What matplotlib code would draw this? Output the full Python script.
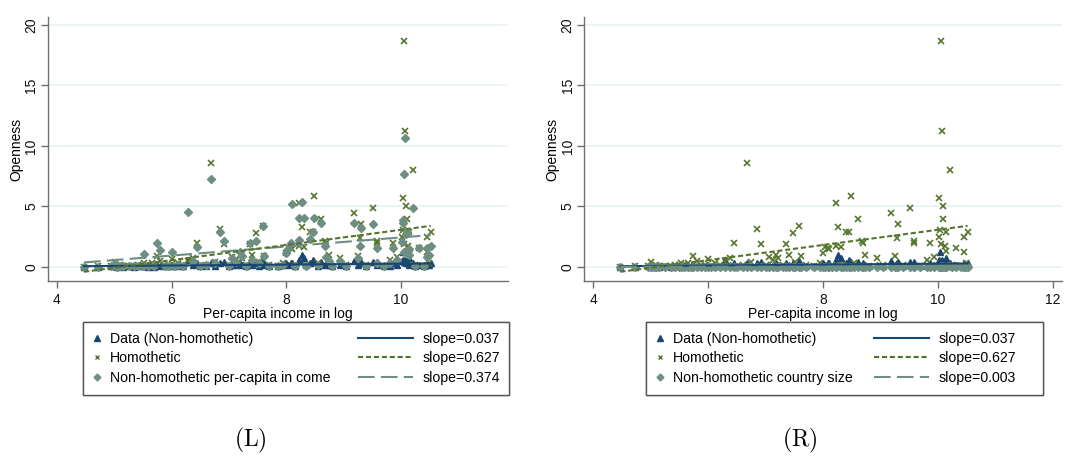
import numpy as np
import matplotlib
matplotlib.use("Agg")
import matplotlib.pyplot as plt
from matplotlib.lines import Line2D

plt.rcParams['font.family'] = ['Liberation Sans', 'DejaVu Sans']
plt.rcParams['mathtext.fontset'] = 'cm'

# log per-capita income of each country
log_income = [4.47, 4.72, 4.95, 5.00, 5.01, 5.05, 5.10, 5.15, 5.25, 5.35,
              5.42, 5.50, 5.52, 5.58, 5.65, 5.70, 5.74, 5.80, 5.88, 5.95,
              6.00, 6.05, 6.12, 6.20, 6.29, 6.38, 6.45, 6.50, 6.60, 6.68,
              6.75, 6.85, 6.92, 7.00, 7.06, 7.13, 7.19, 7.22, 7.30, 7.36,
              7.41, 7.48, 7.52, 7.59, 7.61, 7.70, 7.85, 7.95, 8.00, 8.03,
              8.09, 8.10, 8.15, 8.22, 8.23, 8.27, 8.31, 8.35, 8.41, 8.46,
              8.49, 8.55, 8.61, 8.68, 8.70, 8.74, 8.80, 8.94, 9.05, 9.18,
              9.26, 9.29, 9.30, 9.40, 9.52, 9.58, 9.59, 9.70, 9.81, 9.87,
              9.94, 10.02, 10.03, 10.04, 10.05, 10.06, 10.07, 10.09, 10.10, 10.12,
              10.14, 10.15, 10.21, 10.25, 10.32, 10.40, 10.45, 10.46, 10.50, 10.52]

# observed openness (navy triangles)
open_data = [0.02, 0.03, 0.04, 0.05, 0.10, 0.03, 0.05, 0.02, 0.04, 0.03,
             0.05, 0.05, 0.10, 0.03, 0.10, 0.02, 0.15, 0.10, 0.05, 0.05,
             0.20, 0.05, 0.10, 0.05, 0.60, 0.20, 0.30, 0.05, 0.10, 0.30,
             0.10, 0.30, 0.40, 0.05, 0.20, 0.15, 0.30, 0.20, 0.10, 0.35,
             0.20, 0.30, 0.10, 0.50, 0.20, 0.05, 0.05, 0.15, 0.30, 0.20,
             0.30, 0.30, 0.10, 0.50, 0.60, 1.00, 0.70, 0.20, 0.30, 0.60,
             0.40, 0.10, 0.40, 0.20, 0.30, 0.20, 0.05, 0.20, 0.10, 0.50,
             0.20, 0.30, 0.40, 0.10, 0.40, 0.40, 0.20, 0.10, 0.10, 0.30,
             0.20, 0.50, 0.60, 1.20, 0.40, 0.50, 0.60, 0.30, 0.40, 0.30,
             0.70, 0.20, 0.30, 0.05, 0.20, 0.05, 0.30, 0.20, 0.20, 0.30]

# homothetic model (green x)
open_homothetic = [0.00, 0.05, 0.05, 0.10, 0.44, 0.05, 0.20, 0.10, 0.05, 0.05,
                   0.15, 0.20, 0.30, 0.10, 0.30, 0.10, 0.91, 0.50, 0.10, 0.20,
                   0.63, 0.10, 0.30, 0.20, 0.52, 0.72, 1.96, 0.10, 0.20, 8.57,
                   0.44, 3.14, 1.90, 0.20, 0.85, 0.58, 0.99, 0.72, 0.20, 1.87,
                   0.99, 2.78, 0.44, 3.39, 0.91, 0.20, 0.10, 0.30, 1.18, 1.68,
                   1.54, 1.46, 0.20, 1.74, 5.26, 3.33, 1.68, 0.20, 2.92, 2.92,
                   5.87, 0.30, 3.94, 2.18, 2.01, 0.99, 0.10, 0.72, 0.20, 4.49,
                   0.91, 2.37, 3.53, 0.20, 4.85, 2.18, 1.96, 0.10, 0.58, 1.96,
                   0.85, 2.45, 5.67, 3.06, 1.90, 18.68, 11.27, 5.04, 3.97, 1.74,
                   2.92, 1.35, 8.02, 0.20, 1.60, 0.10, 2.45, 1.27, 0.30, 2.92]

# non-homothetic, per-capita income channel (teal diamonds, left)
open_nh_income = [0.00, 0.00, 0.05, 0.15, 0.35, 0.00, 0.10, 0.05, 0.05, 0.05,
                  0.10, 0.10, 1.07, 0.05, 0.20, 0.05, 1.96, 1.40, 0.10, 0.10,
                  1.27, 0.05, 0.20, 0.10, 4.55, 0.50, 1.68, 0.05, 0.20, 7.27,
                  0.30, 2.92, 2.18, 0.10, 0.70, 0.40, 1.27, 0.91, 0.10, 1.96,
                  0.60, 2.18, 0.30, 3.42, 0.91, 0.10, 0.10, 0.20, 1.13, 1.50,
                  1.96, 5.18, 0.10, 2.23, 4.02, 5.40, 4.02, 0.10, 2.29, 2.87,
                  4.08, 0.20, 3.66, 1.74, 0.80, 0.50, 0.10, 0.50, 0.10, 3.61,
                  0.70, 1.74, 3.20, 0.10, 3.55, 1.60, 0.30, 0.10, 0.30, 1.60,
                  0.60, 2.09, 3.88, 3.66, 1.20, 7.66, 10.69, 2.73, 2.92, 1.30,
                  1.50, 1.00, 4.90, 0.10, 1.54, 0.10, 1.54, 0.85, 1.00, 1.74]

# non-homothetic, country size channel (teal diamonds, right)
open_nh_size = [0.00, 0.00, 0.01, 0.01, 0.02, 0.00, 0.01, 0.00, 0.01, 0.00,
                0.01, 0.01, 0.02, 0.00, 0.01, 0.00, 0.02, 0.01, 0.00, 0.01,
                0.02, 0.00, 0.01, 0.00, 0.03, 0.01, 0.02, 0.00, 0.01, 0.03,
                0.01, 0.02, 0.02, 0.00, 0.01, 0.01, 0.02, 0.01, 0.00, 0.02,
                0.01, 0.02, 0.01, 0.03, 0.01, 0.00, 0.00, 0.01, 0.02, 0.01,
                0.02, 0.03, 0.00, 0.02, 0.03, 0.04, 0.03, 0.00, 0.02, 0.02,
                0.03, 0.01, 0.03, 0.02, 0.01, 0.01, 0.00, 0.01, 0.00, 0.03,
                0.01, 0.02, 0.03, 0.00, 0.03, 0.02, 0.01, 0.00, 0.01, 0.02,
                0.01, 0.02, 0.03, 0.03, 0.02, 0.05, 0.06, 0.02, 0.02, 0.01,
                0.02, 0.01, 0.04, 0.00, 0.02, 0.00, 0.02, 0.01, 0.01, 0.02]

# fitted lines: slope, intercept
fit_data = (0.037, -0.10)
fit_homothetic = (0.627, -3.20)
fit_nh_income = (0.374, -1.30)
fit_nh_size = (0.003, 0.00)

legend_data = "Data (Non-homothetic)"
legend_hom = "Homothetic"
legend_nh = ["Non-homothetic per-capita in come", "Non-homothetic country size"]

navy = "#1a476f"
green = "#55752f"
teal = "#6e8e84"

x = np.array(log_income)
xfit = np.array([x.min(), x.max()])

fig = plt.figure(figsize=(10.89, 4.62), dpi=100)
ax_l = fig.add_axes([48/1089, 1-281/462, 460/1089, 264/462])
ax_r = fig.add_axes([584.3/1089, 1-281/462, 477.4/1089, 264/462])

panels = [(ax_l, open_nh_income, fit_nh_income, legend_nh[0], (3.843, 11.87), [4, 6, 8, 10], "L", 83),
          (ax_r, open_nh_size, fit_nh_size, legend_nh[1], (3.843, 12.16), [4, 6, 8, 10, 12], "R", 646)]

leg_kw = dict(fontsize=10.2, labelspacing=0.4, borderpad=0.68, borderaxespad=0)

for ax, nh, fit_nh, lab_nh, xlim, xt, tag, lx in panels:
    for yv in [0, 5, 10, 15, 20]:
        ax.axhline(yv, color="#eaf2f3", lw=1.3, zorder=0)
    ax.plot(x, open_data, ls="none", marker="^", ms=5, color=navy, mec=navy, zorder=2)
    ax.plot(x, open_homothetic, ls="none", marker="x", ms=4.5, mew=1.2, color=green, zorder=3)
    ax.plot(x, nh, ls="none", marker="D", ms=4.3, color=teal, mec=teal, zorder=4)

    l1, = ax.plot(xfit, fit_data[0]*xfit + fit_data[1], color=navy, lw=1.5, zorder=5)
    l2, = ax.plot(xfit, fit_homothetic[0]*xfit + fit_homothetic[1], color=green, lw=1.5,
                  dashes=(2.5, 1.3), zorder=6)
    l3, = ax.plot(xfit, fit_nh[0]*xfit + fit_nh[1], color=teal, lw=1.5,
                  dashes=(8, 3), zorder=5)

    ax.set_xlim(*xlim)
    ax.set_ylim(-1.16, 20.66)
    ax.set_xticks(xt)
    ax.set_yticks([0, 5, 10, 15, 20])
    for s in ["top", "right"]:
        ax.spines[s].set_visible(False)
    for s in ["left", "bottom"]:
        ax.spines[s].set_color("#707070")
        ax.spines[s].set_linewidth(1.0)
    ax.tick_params(length=5, width=1, color="#707070", labelsize=10, labelcolor="#111111")
    ax.tick_params(axis="y", labelrotation=90, pad=2)
    for t in ax.get_yticklabels():
        t.set_va("center")
    ax.set_xlabel("Per-capita income in log", fontsize=10, labelpad=0)
    ax.set_ylabel("Openness", fontsize=10, labelpad=1)

    h1 = Line2D([], [], ls="none", marker="^", ms=4, color=navy)
    h2 = Line2D([], [], ls="none", marker="x", ms=3.5, mew=1, color=green)
    h3 = Line2D([], [], ls="none", marker="D", ms=3.5, color=teal)
    leg_w = (509 - 83) if tag == "L" else (1043 - 646)
    lg = fig.legend([h1, h2, h3], [legend_data, legend_hom, lab_nh],
                    loc="upper left", bbox_to_anchor=(lx/1089, 1-392/462, leg_w/1089, 70/462),
                    mode="expand", ncol=1, handlelength=0.6, handletextpad=0.6,
                    fancybox=False, edgecolor="#555555", framealpha=1, **leg_kw)
    lg.get_frame().set_linewidth(1.0)
    fig.add_artist(lg)
    lines_x = 348 if tag == "L" else 864
    fig.legend([l1, l2, l3],
               ["slope=%.3f" % fit_data[0], "slope=%.3f" % fit_homothetic[0], "slope=%.3f" % fit_nh[0]],
               loc="upper left", bbox_to_anchor=(lines_x/1089, 1-322/462),
               handlelength=3.9, handletextpad=0.7, frameon=False, **leg_kw)
    cx = (250 if tag == "L" else 800) / 1089
    fig.text(cx, 1-440/462, r"$(\mathrm{%s})$" % tag, fontsize=17, ha="center", va="center")

fig.savefig("out.png", dpi=100)
